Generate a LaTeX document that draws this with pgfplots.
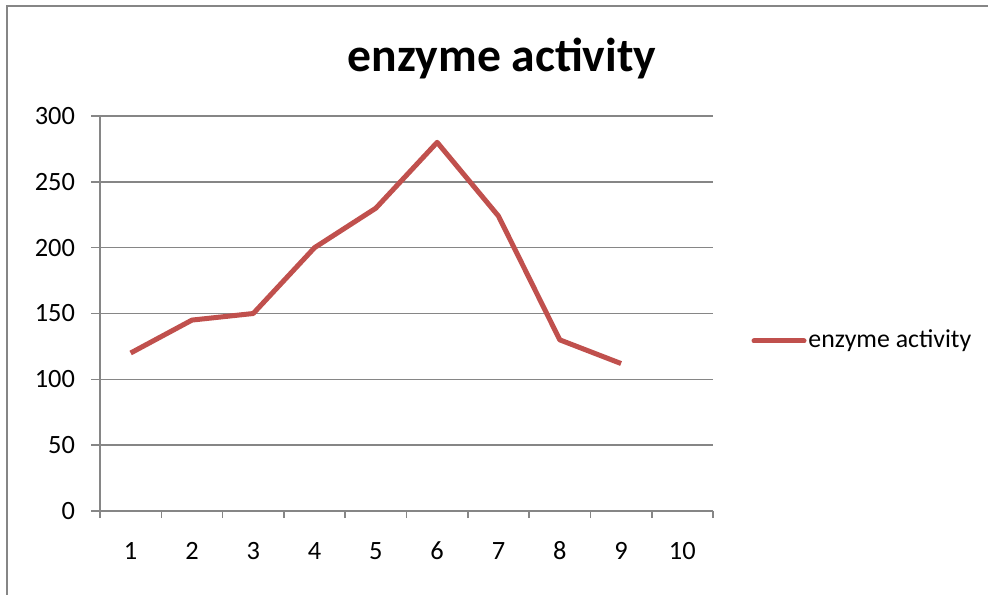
\documentclass[border=0pt]{standalone}
\usepackage{pgfplots}
\pgfplotsset{compat=1.18}
\usepackage{fontspec}
\setmainfont{Carlito}
\definecolor{axgray}{HTML}{868686}
\definecolor{linered}{HTML}{C0504D}
\begin{document}
\begin{tikzpicture}[x=1pt,y=1pt]
\useasboundingbox (0,0) rectangle (494,297);
\draw[axgray,line width=1pt] (3.5,-5) -- (3.5,294) -- (500,294);
\begin{axis}[
  at={(50pt,41.5pt)}, anchor=origin,
  width=306.5pt, height=197.5pt, scale only axis,
  xmin=0.5, xmax=10.5, ymin=0, ymax=300,
  xtick={1,...,10},
  minor xtick={0.5,1.5,...,10.5},
  ytick={0,50,...,300},
  axis x line*=bottom, axis y line*=left,
  axis line style={axgray, line width=0.8pt, -},
  every tick/.style={axgray, line width=0.8pt},
  major x tick style={draw=none},
  tick align=outside,
  major tick length=4.5pt, minor tick length=3.5pt,
  ymajorgrids, grid style={axgray, line width=0.7pt},
  /pgf/number format/assume math mode=true,
  tick label style={font=\fontsize{13.2}{15}\selectfont},
  yticklabel style={xshift=-4.5pt},
  xticklabel style={yshift=-8.5pt, text height=1.6ex, text depth=0.2ex},
  clip=false,
]
\addplot[linered, line width=2.5pt, line join=round] coordinates {
(1,120) (2,145) (3,150) (4,200) (5,230) (6,280) (7,224) (8,130) (9,112)
};
\end{axis}
\draw[linered, line width=2.5pt, line cap=round] (377,126.5) -- (402,126.5);
\node[anchor=west, inner sep=0, font=\fontsize{12.9}{15}\selectfont] at (404,126.5) {enzyme activity};
\node[font=\fontsize{23.8}{27}\selectfont\bfseries] at (251,267.5) {enzyme activity};
\end{tikzpicture}
\end{document}
